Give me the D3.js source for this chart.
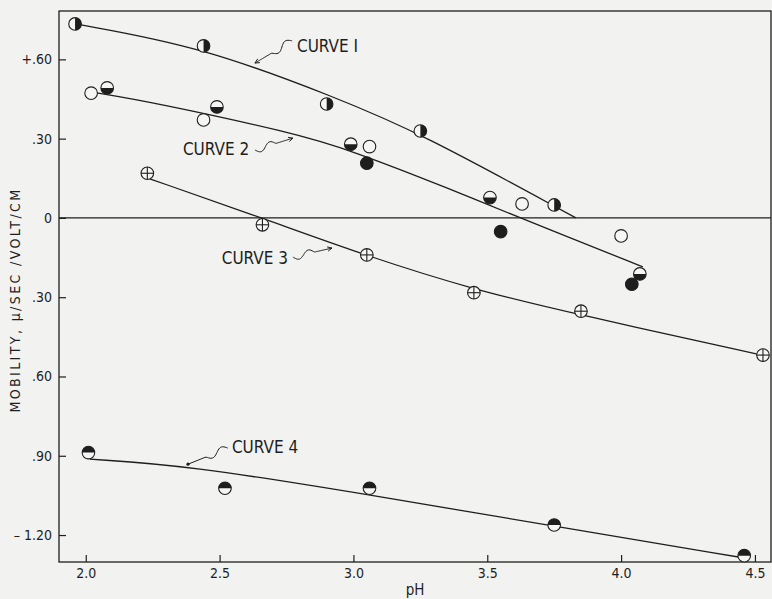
<!DOCTYPE html>
<html>
<head>
<meta charset="utf-8">
<script src="https://cdn.jsdelivr.net/npm/d3@7"></script>
<style>
  body { margin: 0; background: #f2f2f0; }
  svg { display: block; }
  text { font-family: "DejaVu Sans Condensed", "DejaVu Sans", sans-serif; fill: #1e1e1e; }
</style>
</head>
<body>
<svg width="772" height="599"></svg>
<script>
// ---- data (pH, mobility in micron/sec/volt/cm) ----
// curve 1 : right-half black circles
var c1PH  = [1.96, 2.44, 2.90, 3.25, 3.75];
var c1Mob = [0.734, 0.651, 0.431, 0.329, 0.049];
// curve 2 : open circles, bottom-half black, solid black
var c2OpenPH  = [2.02, 2.44, 3.06, 3.63, 4.00];
var c2OpenMob = [0.472, 0.371, 0.270, 0.053, -0.068];
var c2HalfPH  = [2.08, 2.49, 2.99, 3.51, 4.07];
var c2HalfMob = [0.492, 0.420, 0.279, 0.077, -0.212];
var c2FullPH  = [3.05, 3.55, 4.04];
var c2FullMob = [0.207, -0.052, -0.251];
// curve 3 : crossed circles
var c3PH  = [2.23, 2.66, 3.05, 3.45, 3.85, 4.53];
var c3Mob = [0.169, -0.026, -0.140, -0.283, -0.353, -0.519];
// curve 4 : top-half black circles
var c4PH  = [2.01, 2.52, 3.06, 3.75, 4.46];
var c4Mob = [-0.888, -1.023, -1.023, -1.162, -1.278];

// drawn (fitted) curves
var fit1PH  = [1.963, 2.437, 2.938, 3.248, 3.831];
var fit1Mob = [0.734, 0.647, 0.454, 0.322, 0.0];
var fit2PH  = [2.041, 2.239, 2.774, 2.987, 3.36, 3.622, 4.081];
var fit2Mob = [0.473, 0.440, 0.322, 0.257, 0.110, 0.0, -0.185];
var fit3PH  = [2.239, 2.669, 3.049, 3.454, 3.846, 4.526];
var fit3Mob = [0.148, -0.004, -0.144, -0.273, -0.367, -0.519];
var fit4PH  = [2.015, 2.382, 3.061, 3.749, 4.444];
var fit4Mob = [-0.913, -0.937, -1.048, -1.166, -1.284];

// curve labels and their pointers
var labelText = ["CURVE  I", "CURVE  2", "CURVE  3", "CURVE  4"];
var labelPH   = [2.789, 2.363, 2.508, 2.546];
var labelMob  = [0.628, 0.238, -0.174, -0.891];
var tailPH    = [2.771, 2.632, 2.774, 2.531];
var tailMob   = [0.670, 0.257, -0.148, -0.871];
var tipPH     = [2.632, 2.774, 2.920, 2.382];
var tipMob    = [0.586, 0.302, -0.114, -0.932];

// axes
var xTicks = [2.0, 2.5, 3.0, 3.5, 4.0, 4.5];
var yTicks = [0.6, 0.3, 0, -0.3, -0.6, -0.9, -1.2];
var yTickLabels = ["+.60", ".30", "0", ".30", ".60", ".90", "\u2013 1.20"];

// ---- chart ----
var svg = d3.select("svg"),
    width = +svg.attr("width"),
    height = +svg.attr("height");
var margin = {top: 11, right: 1, bottom: 37, left: 59};
var ink = "#1e1e1e";

var x = d3.scaleLinear().domain([1.9, 4.56]).range([margin.left, width - margin.right]);
var y = d3.scaleLinear().domain([-1.302, 0.783]).range([height - margin.bottom, margin.top]);

// frame
svg.append("rect")
   .attr("x", margin.left).attr("y", margin.top)
   .attr("width", width - margin.right - margin.left)
   .attr("height", height - margin.bottom - margin.top)
   .attr("fill", "none").attr("stroke", ink).attr("stroke-width", 1.3);

// zero line
svg.append("line")
   .attr("x1", x.range()[0]).attr("x2", x.range()[1])
   .attr("y1", y(0)).attr("y2", y(0))
   .attr("stroke", ink).attr("stroke-width", 1.3);

var xAxis = svg.append("g")
   .attr("transform", "translate(0," + (height - margin.bottom) + ")")
   .call(d3.axisBottom(x).tickValues(xTicks).tickSize(-7).tickPadding(6)
           .tickFormat(d3.format(".1f")));
var yAxis = svg.append("g")
   .attr("transform", "translate(" + margin.left + ",0)")
   .call(d3.axisLeft(y).tickValues(yTicks).tickSize(-7).tickPadding(7)
           .tickFormat(function(d, i) { return yTickLabels[i]; }));
[xAxis, yAxis].forEach(function(a) {
  a.select(".domain").remove();
  a.selectAll("line").attr("stroke", ink).attr("stroke-width", 1.2);
  a.selectAll("text").attr("font-size", 14).attr("fill", ink)
   .attr("font-family", "'DejaVu Sans Condensed', sans-serif");
});

// axis titles
svg.append("text")
   .attr("transform", "translate(20," + 300 + ") rotate(-90)")
   .attr("text-anchor", "middle")
   .attr("font-family", "'DejaVu Sans', sans-serif")
   .attr("font-size", 14)
   .attr("letter-spacing", 2.4)
   .text("MOBILITY,  \u03bc/SEC /VOLT/CM");
svg.append("text")
   .attr("x", 415).attr("y", 595)
   .attr("text-anchor", "middle")
   .attr("font-size", 15)
   .text("pH");

// fitted curves
var line = d3.line()
   .x(function(d) { return x(d[0]); })
   .y(function(d) { return y(d[1]); })
   .curve(d3.curveBasis);
[[fit1PH, fit1Mob], [fit2PH, fit2Mob], [fit3PH, fit3Mob], [fit4PH, fit4Mob]].forEach(function(f) {
  svg.append("path")
     .datum(d3.zip(f[0], f[1]))
     .attr("d", line)
     .attr("fill", "none").attr("stroke", ink).attr("stroke-width", 1.3);
});

// markers
var r = 6.3;
function halfArc(a0) {
  return d3.arc().innerRadius(0).outerRadius(r).startAngle(a0).endAngle(a0 + Math.PI)();
}
function markers(phs, mobs, kind) {
  var g = svg.append("g").selectAll("g")
     .data(d3.zip(phs, mobs))
     .enter().append("g")
     .attr("transform", function(d) { return "translate(" + x(d[0]) + "," + y(d[1]) + ")"; });
  g.append("circle").attr("r", r)
   .attr("fill", kind === "full" ? ink : "#f6f6f4");
  if (kind === "right") g.append("path").attr("d", halfArc(0)).attr("fill", ink);
  if (kind === "bottom") g.append("path").attr("d", halfArc(Math.PI / 2)).attr("fill", ink);
  if (kind === "top") g.append("path").attr("d", halfArc(-Math.PI / 2)).attr("fill", ink);
  if (kind === "cross") {
    g.append("line").attr("x1", -r).attr("x2", r).attr("stroke", ink).attr("stroke-width", 1.1);
    g.append("line").attr("y1", -r).attr("y2", r).attr("stroke", ink).attr("stroke-width", 1.1);
  }
  g.append("circle").attr("r", r)
   .attr("fill", "none").attr("stroke", ink).attr("stroke-width", 1.1);
}
markers(c1PH, c1Mob, "right");
markers(c2OpenPH, c2OpenMob, "open");
markers(c2HalfPH, c2HalfMob, "bottom");
markers(c2FullPH, c2FullMob, "full");
markers(c3PH, c3Mob, "cross");
markers(c4PH, c4Mob, "top");

// labels with wavy pointers
function squiggle(x0, y0, x1, y1) {
  var dx = x1 - x0, dy = y1 - y0, L = Math.hypot(dx, dy),
      nx = -dy / L, ny = dx / L, pts = [];
  for (var i = 0; i <= 40; i++) {
    var t = i / 40;
    var off = t < 0.55 ? 3.5 * Math.sin(2 * Math.PI * t / 0.55) : 0;
    pts.push([x0 + dx * t + nx * off, y0 + dy * t + ny * off]);
  }
  return d3.line().curve(d3.curveBasis)(pts);
}
labelText.forEach(function(t, i) {
  svg.append("text")
     .attr("x", x(labelPH[i])).attr("y", y(labelMob[i]))
     .attr("font-size", 17)
     .text(t);
  var x0 = x(tailPH[i]), y0 = y(tailMob[i]), x1 = x(tipPH[i]), y1 = y(tipMob[i]);
  svg.append("path")
     .attr("d", squiggle(x0, y0, x1, y1))
     .attr("fill", "none").attr("stroke", ink).attr("stroke-width", 1);
  var ang = Math.atan2(y1 - y0, x1 - x0);
  if (i === 3) {
    svg.append("circle").attr("cx", x1).attr("cy", y1).attr("r", 1.6).attr("fill", ink);
  } else {
    var h = 5, s = 0.45;
    svg.append("path")
       .attr("d", "M" + (x1 - h * Math.cos(ang - s)) + "," + (y1 - h * Math.sin(ang - s)) +
                  "L" + x1 + "," + y1 +
                  "L" + (x1 - h * Math.cos(ang + s)) + "," + (y1 - h * Math.sin(ang + s)))
       .attr("fill", "none").attr("stroke", ink).attr("stroke-width", 1);
  }
});
</script>
</body>
</html>
